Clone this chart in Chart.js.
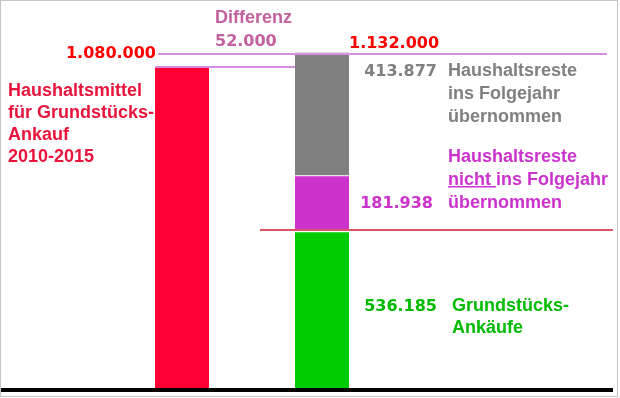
<!DOCTYPE html>
<html>
<head>
<meta charset="utf-8">
<script src="https://cdn.jsdelivr.net/npm/chart.js@4"></script>
<style>
  html, body { margin: 0; padding: 0; background: #fff; }
  canvas { display: block; }
</style>
</head>
<body>
<canvas id="chart" width="620" height="398"></canvas>
<script>
// Werte
var categories = ['Haushaltsmittel', 'Verwendung'];
var budget = [1080000, null];
var purchases = [null, 536185];
var restNotCarried = [null, 181938];
var restCarried = [null, 413877];
var total = 1132000;
var difference = 52000;

var budgetLabel = ['Haushaltsmittel', 'für Grundstücks-', 'Ankauf', '2010-2015'];
var carriedLabel = ['Haushaltsreste', 'ins Folgejahr', 'übernommen'];
var purchaseLabel = ['Grundstücks-', 'Ankäufe'];

function fmt(v) {
	return v.toString().replace(/\B(?=(\d{3})+(?!\d))/g, '.');
}

var NUM = "bold 16px 'DejaVu Sans'";
var TXT = "bold 18px 'Liberation Sans'";

var annotations = {
	id: 'annotations',
	afterDraw: function (chart) {
		var ctx = chart.ctx;
		var y = chart.scales.y;
		var red = chart.getDatasetMeta(0).data[0];
		var stk = chart.getDatasetMeta(1).data[1];
		var rl = red.x - red.width / 2;
		var sl = stk.x - stk.width / 2;
		var sr = stk.x + stk.width / 2;
		ctx.save();

		// Linien
		ctx.strokeStyle = '#d78fe0';
		ctx.lineWidth = 2;
		ctx.beginPath();
		ctx.moveTo(rl + 3, Math.round(y.getPixelForValue(total)) + 1);
		ctx.lineTo(607, Math.round(y.getPixelForValue(total)) + 1);
		ctx.moveTo(rl, Math.round(y.getPixelForValue(budget[0])) - 1);
		ctx.lineTo(sl, Math.round(y.getPixelForValue(budget[0])) - 1);
		ctx.stroke();

		// Trennlinie Grundstücksankäufe
		ctx.fillStyle = '#dc5468';
		ctx.fillRect(sl - 35, Math.floor(y.getPixelForValue(purchases[1])), 613 - (sl - 35), 2);

		// Grundlinie
		ctx.fillStyle = '#000';
		ctx.fillRect(0, y.getPixelForValue(0), 613, 4);

		// Rahmen
		ctx.strokeStyle = '#c4c4c4';
		ctx.lineWidth = 1;
		ctx.strokeRect(0.5, 0.5, 617, 396);

		ctx.textBaseline = 'alphabetic';

		// Differenz
		ctx.fillStyle = '#c3619e';
		ctx.textAlign = 'left';
		ctx.font = TXT;
		ctx.fillText('Differenz', rl + 60, 23);
		ctx.font = NUM;
		ctx.fillText(fmt(difference), rl + 60, 46);

		// Summen
		ctx.fillStyle = '#ff0000';
		ctx.textAlign = 'right';
		ctx.fillText(fmt(budget[0]), rl + 1, 58);
		ctx.textAlign = 'left';
		ctx.fillText(fmt(total), sr, 48);

		// Haushaltsmittel
		ctx.fillStyle = '#e8143c';
		ctx.font = TXT;
		budgetLabel.forEach(function (t, i) { ctx.fillText(t, 8, 96 + i * 22); });

		// Haushaltsreste übernommen
		ctx.fillStyle = '#808080';
		ctx.font = NUM;
		ctx.textAlign = 'right';
		ctx.fillText(fmt(restCarried[1]), sr + 88, 76);
		ctx.textAlign = 'left';
		ctx.font = TXT;
		carriedLabel.forEach(function (t, i) { ctx.fillText(t, sr + 99, 76 + i * 23); });

		// Haushaltsreste nicht übernommen
		ctx.fillStyle = '#cc33cc';
		ctx.fillText('Haushaltsreste', sr + 99, 162);
		ctx.fillText('nicht ', sr + 99, 185);
		var w = ctx.measureText('nicht ').width;
		ctx.fillText('ins Folgejahr', sr + 99 + w, 185);
		ctx.fillRect(sr + 99, 186, w, 1.5);
		ctx.fillText('übernommen', sr + 99, 208);
		ctx.font = NUM;
		ctx.textAlign = 'right';
		ctx.fillText(fmt(restNotCarried[1]), sr + 84, 208);

		// Grundstücksankäufe
		ctx.fillStyle = '#00bb00';
		ctx.fillText(fmt(purchases[1]), sr + 88, 311);
		ctx.textAlign = 'left';
		ctx.font = TXT;
		purchaseLabel.forEach(function (t, i) { ctx.fillText(t, sr + 103, 311 + i * 22); });

		ctx.restore();
	}
};

var grafic = document.getElementById('chart').getContext('2d');

var myChart = new Chart(grafic, {
	type: 'bar',
	data: {
		labels: categories,
		datasets: [
			{
				label: 'Haushaltsmittel',
				data: budget,
				backgroundColor: '#ff0033'
			},
			{
				label: 'Grundstücks-Ankäufe',
				data: purchases,
				backgroundColor: '#00cc00',
				borderColor: '#ffffff',
				borderWidth: { top: 3 }
			},
			{
				label: 'Haushaltsreste nicht übernommen',
				data: restNotCarried,
				backgroundColor: '#cc33cc',
				borderColor: '#f0e0f0',
				borderWidth: { top: 1 }
			},
			{
				label: 'Haushaltsreste übernommen',
				data: restCarried,
				backgroundColor: '#808080'
			}
		]
	},
	options: {
		responsive: false,
		animation: false,
		devicePixelRatio: 1,
		categoryPercentage: 1,
		barPercentage: 54 / 140,
		layout: { padding: { left: 112, right: 228, top: 0, bottom: 10 } },
		scales: {
			x: { stacked: true, display: false },
			y: { stacked: true, display: false, min: 0, max: 1310000 }
		},
		plugins: {
			legend: { display: false },
			tooltip: { enabled: false }
		}
	},
	plugins: [annotations]
});
</script>
</body>
</html>
